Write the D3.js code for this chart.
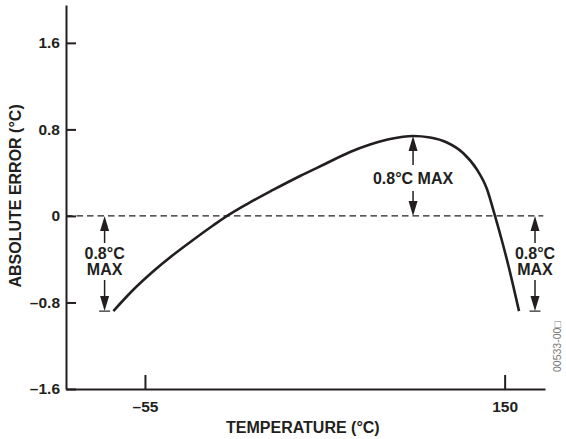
<!DOCTYPE html>
<html>
<head>
<meta charset="utf-8">
<script src="https://cdn.jsdelivr.net/npm/d3@7"></script>
<style>
  body { margin: 0; background: #fff; }
  text { font-family: "Liberation Sans", Arial, sans-serif; font-weight: bold; fill: #231f20; }
</style>
</head>
<body>
<div id="chart"></div>
<script>
// values
const temp = [-73, -61.8, -50.4, -39, -27.6, -16.2, -8.2, 3.2, 18, 33.4, 47.6, 61.9, 73.3, 84.7, 97.8, 107.5, 117.1, 126.3, 134.2, 139.9, 144.5, 148.5, 152.2, 158.2]
const error = [-0.88, -0.685, -0.514, -0.361, -0.222, -0.089, 0, 0.11, 0.24, 0.369, 0.48, 0.591, 0.66, 0.711, 0.739, 0.725, 0.679, 0.582, 0.429, 0.249, 0, -0.232, -0.463, -0.88]
const x_ticks = [-55, 150]
const y_ticks = [-1.6, -0.8, 0, 0.8, 1.6]
const notes = [
  {x: -78, top: 0, bottom: -0.88, label: ["0.8°C", "MAX"], bar: true},
  {x: 97.8, top: 0.739, bottom: 0, label: ["0.8°C MAX"], bar: false},
  {x: 167.3, top: 0, bottom: -0.88, label: ["0.8°C", "MAX"], bar: true}
]

const W = 566, H = 439
const margin = {top: 5, right: 21, bottom: 50, left: 66}
const width = W - margin.left - margin.right,
      height = H - margin.top - margin.bottom

const svg = d3.select("#chart").append("svg")
    .attr("width", W)
    .attr("height", H)
const g = svg.append("g")
    .attr("transform", "translate(" + margin.left + "," + margin.top + ")")

const x = d3.scaleLinear().domain([-100, 173]).range([0, width])
const y = d3.scaleLinear().domain([-1.6, 1.95]).range([height, 0])

function fmt(d) { return d < 0 ? "\u2013" + Math.abs(d) : String(d) }

// axes
g.append("g")
    .attr("transform", "translate(0," + height + ")")
    .call(d3.axisBottom(x)
        .tickValues(x_ticks)
        .tickSizeInner(-14)
        .tickSizeOuter(0)
        .tickPadding(7)
        .tickFormat(fmt))
    .call(a => a.selectAll(".tick text").attr("dy", "1em"))
g.append("g")
    .call(d3.axisLeft(y)
        .tickValues(y_ticks)
        .tickSizeInner(-10)
        .tickSizeOuter(0)
        .tickPadding(6)
        .tickFormat(d => d === 0 ? "0" : fmt(d)))
g.selectAll(".domain, .tick line").attr("stroke", "#231f20").attr("stroke-width", 2)
g.selectAll(".tick text")
    .attr("fill", "#231f20")
    .style("font-size", "15.5px")
    .style("font-family", "Liberation Sans, Arial, sans-serif")
    .style("font-weight", "bold")

// zero line
g.append("line")
    .attr("x1", x(-100)).attr("x2", x(172))
    .attr("y1", y(0)).attr("y2", y(0))
    .attr("stroke", "#231f20")
    .attr("stroke-width", 1.2)
    .attr("stroke-dasharray", "6.5,4")

// curve
g.append("path")
    .datum(d3.zip(temp, error))
    .attr("fill", "none")
    .attr("stroke", "#231f20")
    .attr("stroke-width", 2.6)
    .attr("d", d3.line()
        .x(d => x(d[0]))
        .y(d => y(d[1]))
        .curve(d3.curveMonotoneX))

// annotations
function arrow(px, tail, tip) {
    const dir = tip < tail ? 1 : -1
    g.append("line")
        .attr("x1", px).attr("x2", px)
        .attr("y1", tail).attr("y2", tip + dir * 12)
        .attr("stroke", "#231f20").attr("stroke-width", 1.5)
    g.append("path")
        .attr("d", "M" + px + "," + tip + "L" + (px - 4.5) + "," + (tip + dir * 15) +
                   "L" + (px + 4.5) + "," + (tip + dir * 15) + "Z")
        .attr("fill", "#231f20")
}
notes.forEach(n => {
    const px = x(n.x)
    const yt = y(n.top), yb = y(n.bottom)
    if (n.label.length === 2) {
        const mid = (yt + yb) / 2
        arrow(px, mid - 20.5, yt)
        arrow(px, mid + 16.5, yb)
        n.label.forEach((t, i) => {
            g.append("text")
                .attr("x", px).attr("y", mid - 10.5 + i * 16)
                .attr("text-anchor", "middle")
                .attr("dy", "0.35em")
                .style("font-size", "16px")
                .text(t)
        })
    } else {
        const mid = (yt + yb) / 2 + 2
        arrow(px, mid - 13, yt)
        arrow(px, mid + 13, yb)
        g.append("text")
            .attr("x", px).attr("y", mid)
            .attr("text-anchor", "middle")
            .attr("dy", "0.35em")
            .style("font-size", "16px")
            .text(n.label[0])
    }
    if (n.bar) {
        g.append("line")
            .attr("x1", px - 5.5).attr("x2", px + 5.5)
            .attr("y1", yb).attr("y2", yb)
            .attr("stroke", "#231f20").attr("stroke-width", 1.2)
    }
})

// axis titles
svg.append("text")
    .attr("x", margin.left + x(35))
    .attr("y", 433)
    .attr("text-anchor", "middle")
    .style("font-size", "16px")
    .text("TEMPERATURE (°C)")
svg.append("text")
    .attr("transform", "translate(20.5," + (margin.top + y(0) - 20) + ") rotate(-90)")
    .attr("text-anchor", "middle")
    .style("font-size", "16px")
    .text("ABSOLUTE ERROR (°C)")

// figure id
svg.append("text")
    .attr("transform", "translate(561,372) rotate(-90)")
    .style("font-size", "10.5px")
    .style("font-weight", "normal")
    .style("fill", "#777")
    .text("00533-00\u25a1")
</script>
</body>
</html>
